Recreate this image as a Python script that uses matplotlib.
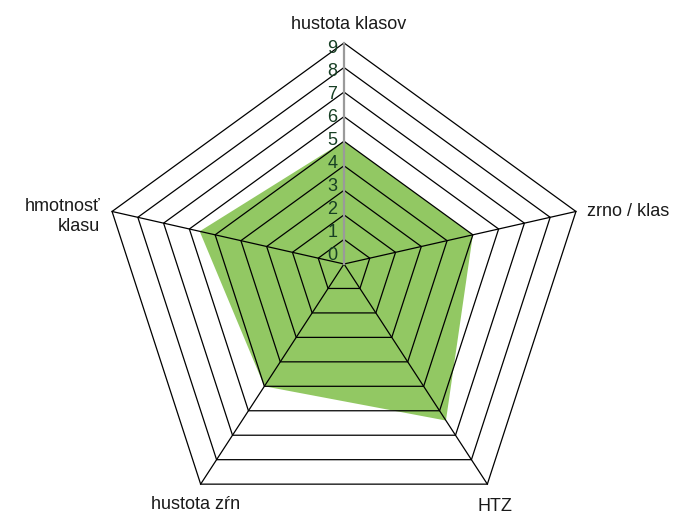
import numpy as np
import matplotlib
matplotlib.use("Agg")
import matplotlib.pyplot as plt

plt.rcParams['font.family'] = ['Liberation Sans', 'DejaVu Sans']

categories = ['hustota klasov', 'zrno / klas', 'HTZ', 'hustota zŕn', 'hmotnosť\nklasu']
values = [5.0, 5.0, 6.4, 5.0, 5.6]
ticks = list(range(0, 10))
vmax = 9

# outer ring is a regular pentagon whose centre sits a bit below the spoke origin
R = 9.93
off = 0.93
ang = np.deg2rad(np.arange(5) * 72)
outer = np.column_stack([R * np.sin(ang), -off + R * np.cos(ang)])
dirs = outer / vmax


def project(vals):
    pts = np.asarray(vals)[:, None] * dirs
    return np.vstack([pts, pts[:1]])


fig = plt.figure(figsize=(6.75, 5.17), dpi=100)
ax = fig.add_axes([0, 0, 1, 1])
scale = 24.56
ax.set_xlim(-344 / scale, (675 - 344) / scale)
ax.set_ylim(-(517 - 264) / scale, 264 / scale)
ax.axis('off')

# data area
poly = project(values)
ax.fill(poly[:, 0], poly[:, 1], color='#92c863', lw=0, zorder=1)

# grid rings
for k in ticks[1:]:
    ring = project([k] * 5)
    ax.plot(ring[:, 0], ring[:, 1], color='black', lw=0.9, zorder=2)

# spokes
for j in range(5):
    end = dirs[j] * vmax
    if j == 0:
        ax.plot([0, end[0]], [0, end[1]], color='#9a9a9a', lw=1.6, zorder=3)
    else:
        ax.plot([0, end[0]], [0, end[1]], color='black', lw=0.9, zorder=2)

# value labels
for k in ticks:
    ax.text(-0.27, 0.366 + 0.936 * k, str(k), ha='right', va='center',
            fontsize=13, color='#173f24', zorder=4)

# category labels
label_pos = [
    (dict(ha='center', va='bottom'), (5, 10)),
    (dict(ha='left', va='center'), (11, 0)),
    (dict(ha='center', va='top'), (8, -14)),
    (dict(ha='center', va='top'), (-5, -12)),
    (dict(ha='right', va='center'), (-12, -5)),
]
for j, cat in enumerate(categories):
    end = dirs[j] * vmax
    kw, offs = label_pos[j]
    ax.annotate(cat, xy=(end[0], end[1]), xytext=offs, textcoords='offset pixels',
                fontsize=13, color='#1a1a1a', multialignment='right', **kw)

fig.savefig('out.png', dpi=100)
